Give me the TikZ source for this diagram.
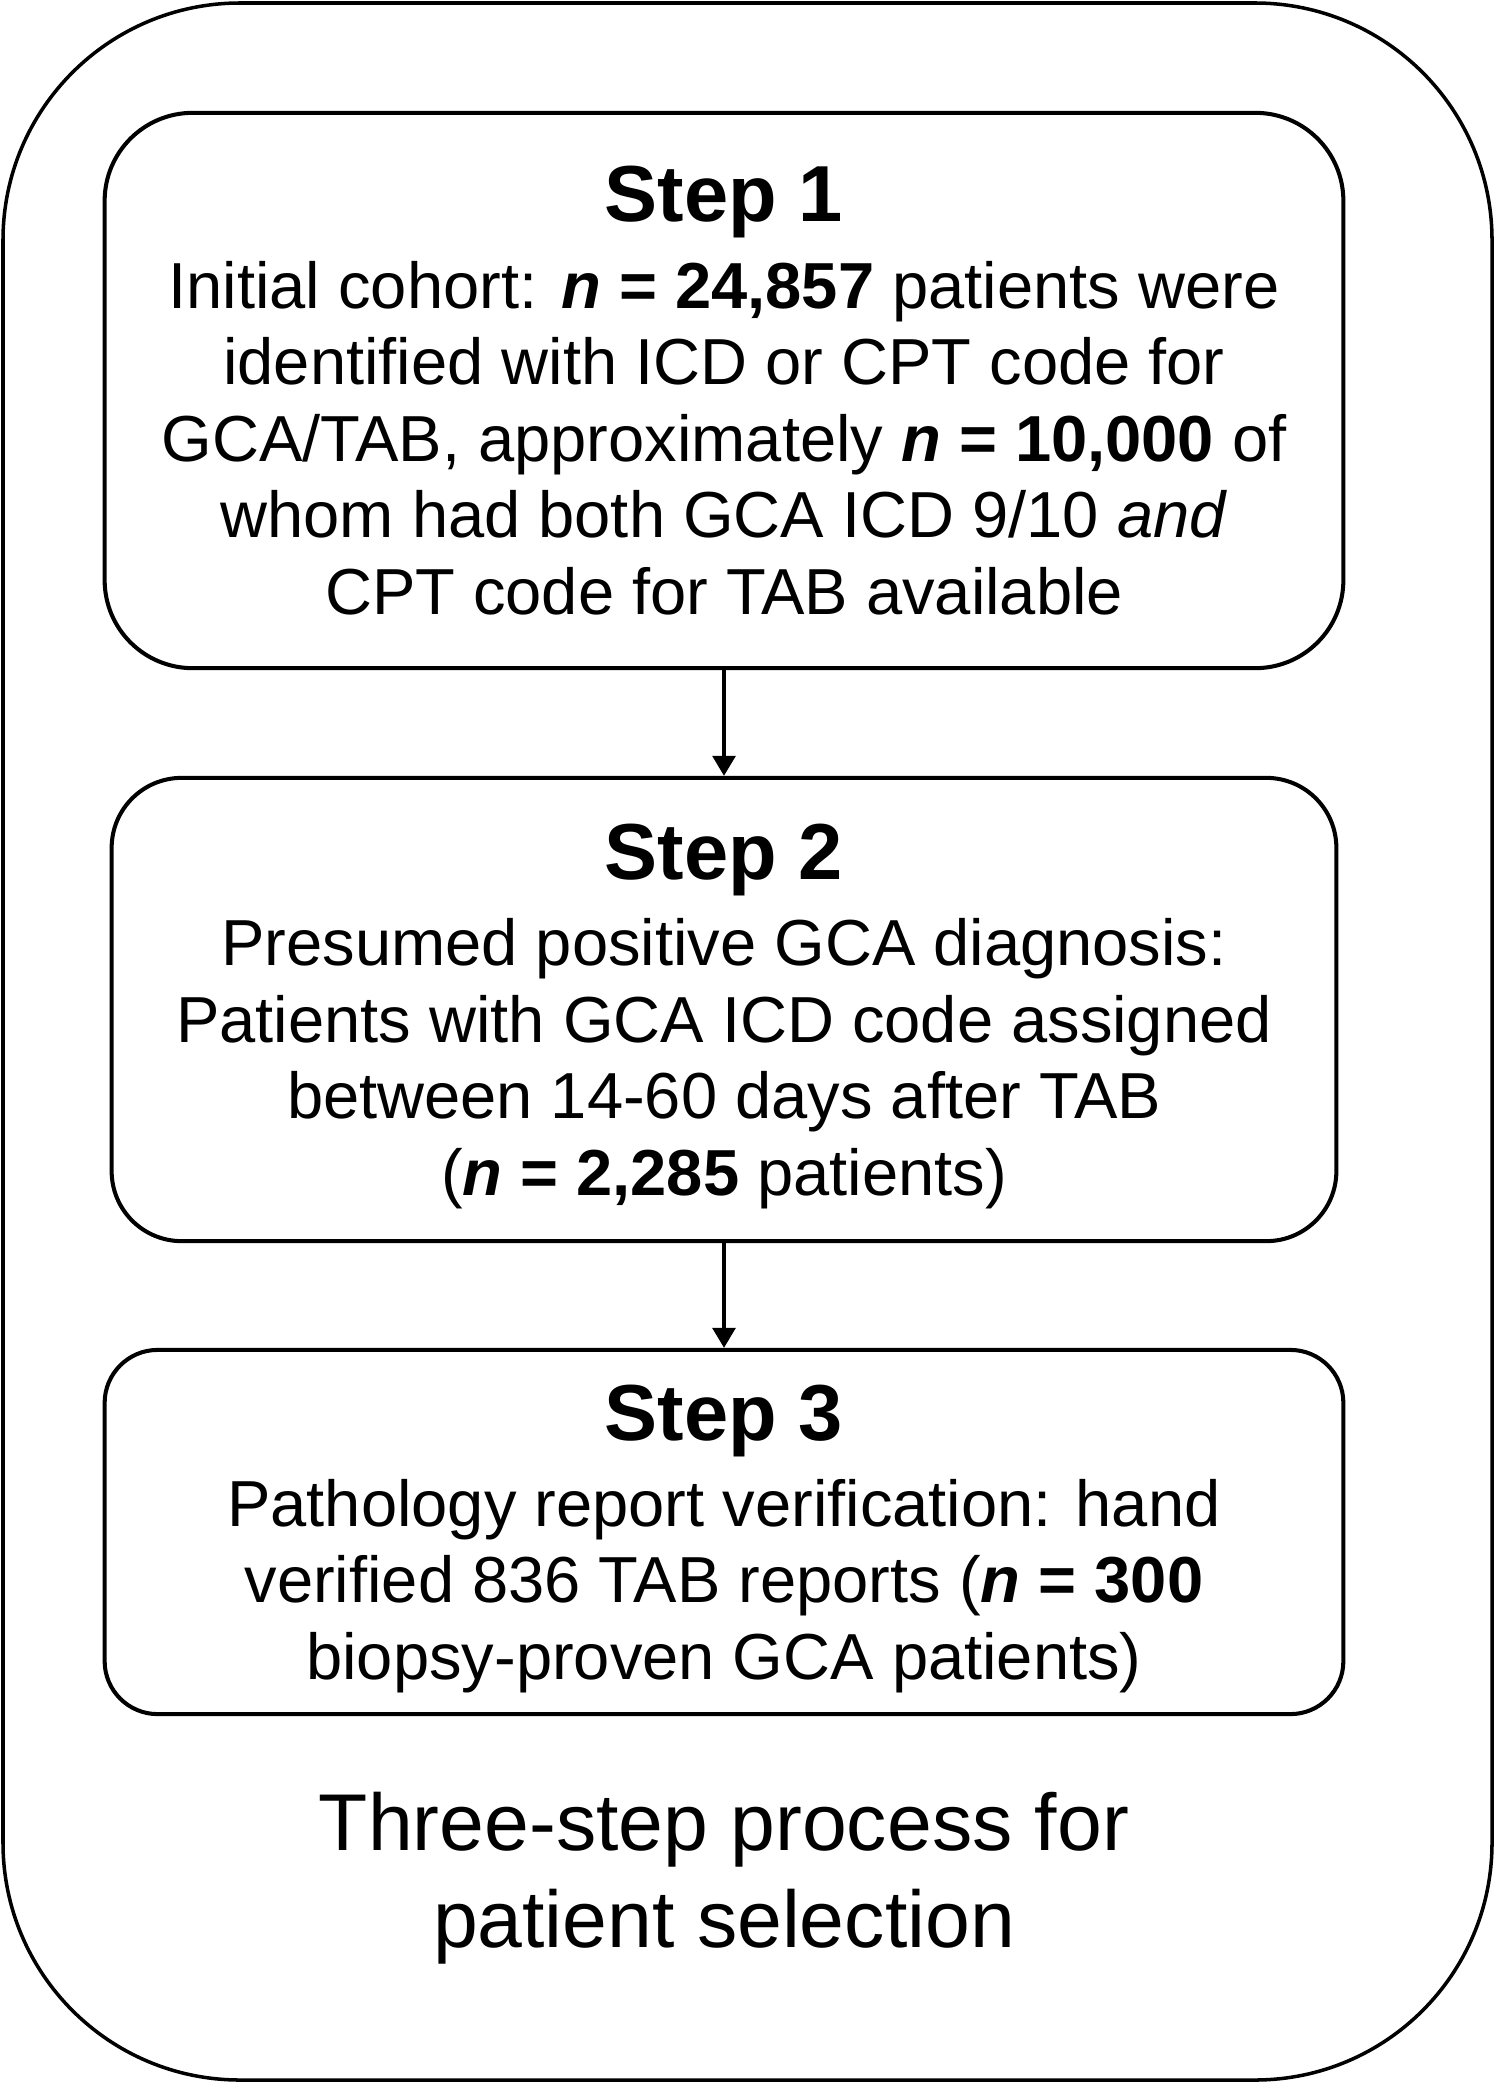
\documentclass[tikz,border=0pt]{standalone}
\usepackage{fontspec}
\setmainfont{Liberation Sans}
\usetikzlibrary{arrows.meta}
\newcommand\bodyfont{\fontsize{18.5}{21.8}\selectfont}
\newcommand\headfont{\fontsize{22.6}{26}\selectfont\bfseries}
\newcommand\capfont{\fontsize{22.9}{27.5}\selectfont}
\newcommand\nval[1]{\textbf{\textit{n} = #1}}
\begin{document}
\begin{tikzpicture}[x=0.01cm, y=-0.01cm, >={Triangle[width=6.5pt,length=5.7pt]},
    stepbox/.style={draw, line width=1.15pt, align=center, font=\bodyfont, text depth=0pt, inner sep=0pt}]
        \useasboundingbox (0,0) rectangle (1500,2088);
        \draw[line width=1pt, rounded corners=2.37cm] (3,3) rectangle (1492,2080);
        \node[stepbox, minimum width=12.38cm, minimum height=5.55cm, rounded corners=0.88cm] (step1) at (724,390.5)
            {{\headfont Step 1}\\[2.7pt]
             Initial cohort: \nval{24,857} patients were\\
             identified with ICD or CPT code for\\
             GCA/TAB, approximately \nval{10,000} of\\
             whom had both GCA ICD 9/10 \textit{and}\\
             CPT code for TAB available};
        \node[stepbox, minimum width=12.24cm, minimum height=4.63cm, rounded corners=0.70cm] (step2) at (724,1009.5)
            {{\headfont Step 2}\\[2.7pt]
             Presumed positive GCA diagnosis:\\
             Patients with GCA ICD code assigned\\
             between 14-60 days after TAB\\
             (\nval{2,285} patients)};
        \node[stepbox, minimum width=12.38cm, minimum height=3.64cm, rounded corners=0.53cm] (step3) at (724,1532)
            {{\headfont Step 3}\\[2.7pt]
             Pathology report verification: hand\\
             verified 836 TAB reports (\nval{300}\\
             biopsy-proven GCA patients)};
        \draw[->, line width=1pt] (step1) -- (step2);
        \draw[->, line width=1pt] (step2) -- (step3);
        \node[align=center, font=\capfont, text depth=0pt] (caption) at (724,1870)
            {Three-step process for\\ patient selection};
    \end{tikzpicture}
\end{document}
